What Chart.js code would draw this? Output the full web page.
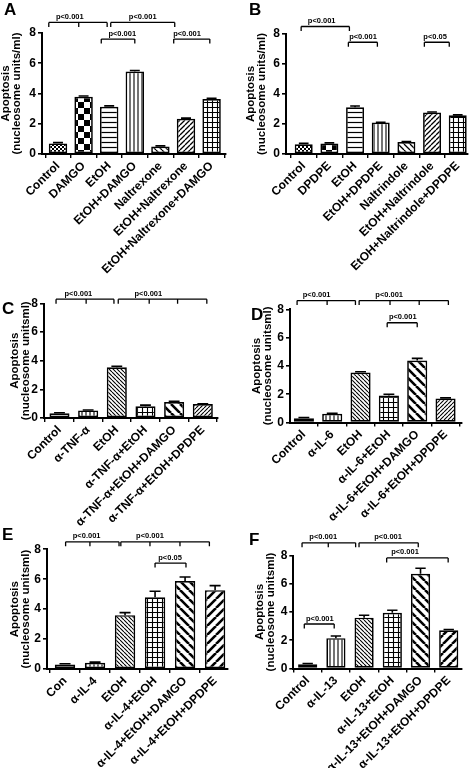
<!DOCTYPE html>
<html>
<head>
<meta charset="utf-8">
<script src="https://cdn.jsdelivr.net/npm/chart.js@4.4.1/dist/chart.umd.min.js"></script>
<style>
  html, body { margin: 0; padding: 0; background: #fff; }
  #wrap { position: relative; width: 472px; height: 768px; overflow: hidden; background: #fff; }
  canvas { position: absolute; }
  .lab { position: absolute; font: bold 17px 'Liberation Sans', Arial, sans-serif; line-height: 1; color: #000; }
</style>
</head>
<body>
<div id="wrap">
  <canvas id="cA"></canvas>
  <canvas id="cB"></canvas>
  <canvas id="cC"></canvas>
  <canvas id="cD"></canvas>
  <canvas id="cE"></canvas>
  <canvas id="cF"></canvas>
  <div class="lab" style="left:4px;top:1px">A</div>
  <div class="lab" style="left:249px;top:1px">B</div>
  <div class="lab" style="left:2px;top:300px">C</div>
  <div class="lab" style="left:251px;top:306px">D</div>
  <div class="lab" style="left:2px;top:526px">E</div>
  <div class="lab" style="left:249px;top:531px">F</div>
</div>
<script>
// ---------------- DATA ----------------
const yTickValues = [0, 2, 4, 6, 8];

const labelsA = ['Control', 'DAMGO', 'EtOH', 'EtOH+DAMGO', 'Naltrexone', 'EtOH+Naltrexone', 'EtOH+Naltrexone+DAMGO'];
const valuesA = [0.70, 3.78, 3.12, 5.45, 0.50, 2.33, 3.63];
const semA    = [0.05, 0.05, 0.06, 0.07, 0.04, 0.04, 0.05];
const bracketsA = [
  { at: [-0.36, 0.81, 1.92], y: 8.7, text: 'p<0.001', tx: 0.46 },
  { at: [2.06, 4.56], y: 8.7, text: 'p<0.001', tx: 3.31 },
  { at: [1.69, 3.0], y: 7.6, text: 'p<0.001', tx: 2.51 },
  { at: [4.52, 5.93], y: 7.6, text: 'p<0.001', tx: 5.04 }
];

const labelsB = ['Control', 'DPDPE', 'EtOH', 'EtOH+DPDPE', 'Naltrindole', 'EtOH+Naltrindole', 'EtOH+Naltrindole+DPDPE'];
const valuesB = [0.65, 0.70, 3.12, 2.10, 0.80, 2.77, 2.58];
const semB    = [0.06, 0.04, 0.08, 0.02, 0.03, 0.03, 0.03];
const bracketsB = [
  { at: [-0.10, 1.78], y: 8.5, text: 'p<0.001', tx: 0.70 },
  { at: [1.74, 2.87], y: 7.45, text: 'p<0.001', tx: 2.31 },
  { at: [4.70, 5.67], y: 7.45, text: 'p<0.05', tx: 5.12 }
];

const labelsC = ['Control', 'α-TNF-α', 'EtOH', 'α-TNF-α+EtOH', 'α-TNF-α+EtOH+DAMGO', 'α-TNF-α+EtOH+DPDPE'];
const valuesC = [0.33, 0.53, 3.55, 0.82, 1.12, 0.97];
const semC    = [0.04, 0.03, 0.07, 0.08, 0.04, 0.03];
const bracketsC = [
  { at: [-0.12, 0.93, 1.90], y: 8.3, text: 'p<0.001', tx: 0.66 },
  { at: [2.05, 3.13, 4.12, 5.14], y: 8.3, text: 'p<0.001', tx: 3.10 }
];

const labelsD = ['Control', 'α-IL-6', 'EtOH', 'α-IL-6+EtOH', 'α-IL-6+EtOH+DAMGO', 'α-IL-6+EtOH+DPDPE'];
const valuesD = [0.30, 0.62, 3.53, 1.90, 4.38, 1.70];
const semD    = [0.05, 0.03, 0.06, 0.10, 0.15, 0.04];
const bracketsD = [
  { at: [-0.24, 0.82, 1.82], y: 8.62, text: 'p<0.001', tx: 0.45 },
  { at: [1.95, 3.04, 4.07, 5.10], y: 8.62, text: 'p<0.001', tx: 3.01 },
  { at: [2.94, 4.00], y: 7.05, text: 'p<0.001', tx: 3.49 }
];

const labelsE = ['Con', 'α-IL-4', 'EtOH', 'α-IL-4+EtOH', 'α-IL-4+EtOH+DAMGO', 'α-IL-4+EtOH+DPDPE'];
const valuesE = [0.30, 0.42, 3.60, 4.80, 5.88, 5.27];
const semE    = [0.05, 0.04, 0.17, 0.40, 0.27, 0.30];
const bracketsE = [
  { at: [0.02, 0.83, 1.80], y: 8.5, text: 'p<0.001', tx: 0.72 },
  { at: [1.86, 2.83, 3.83, 4.81], y: 8.5, text: 'p<0.001', tx: 2.83 },
  { at: [3.00, 4.03], y: 7.08, text: 'p<0.05', tx: 3.50 }
];

const labelsF = ['Control', 'α-IL-13', 'EtOH', 'α-IL-13+EtOH', 'α-IL-13+EtOH+DAMGO', 'α-IL-13+EtOH+DPDPE'];
const valuesF = [0.30, 2.15, 3.60, 3.95, 6.70, 2.70];
const semF    = [0.05, 0.15, 0.17, 0.17, 0.40, 0.06];
const bracketsF = [
  { at: [-0.20, 0.73, 1.70], y: 8.9, text: 'p<0.001', tx: 0.55 },
  { at: [1.82, 3.92], y: 8.9, text: 'p<0.001', tx: 2.85 },
  { at: [2.80, 4.98], y: 7.83, text: 'p<0.001', tx: 3.45 },
  { at: [-0.12, 0.94], y: 3.15, text: 'p<0.001', tx: 0.43 }
];

const titleMl  = ['Apoptosis', '(nucleosome units/ml)'];
const titleUml = ['Apoptosis', '(nucleosome unitsml)'];

// ---------------- STYLE ----------------
const FAMILY = "'Liberation Sans', Arial, sans-serif";
const PATTERN_DEFS = {
  none:      { type: 'none' },
  fineCheck: { type: 'check', s: 4 },
  bigCheck:  { type: 'check', s: 12 },
  hLines:    { type: 'h', s: 5, lw: 1.2 },
  vLines:    { type: 'v', s: 4, lw: 1.1 },
  grid:      { type: 'grid', s: 5, lw: 1.1 },
  bsMed:     { type: 'bs', s: 6, lw: 1.3 },
  fsMed:     { type: 'fs', s: 5, lw: 1.3 },
  bsDense:   { type: 'bs', s: 4, lw: 1.1 },
  fsDense:   { type: 'fs', s: 4, lw: 1.1 },
  bsWide:    { type: 'bs', s: 9, lw: 2.6 },
  fsWide:    { type: 'fs', s: 9, lw: 2.6 }
};

function makePattern(name) {
  const d = PATTERN_DEFS[name];
  if (d.type === 'none') return '#ffffff';
  const s = d.s;
  const c = document.createElement('canvas');
  c.width = s; c.height = s;
  const g = c.getContext('2d');
  g.fillStyle = '#fff'; g.fillRect(0, 0, s, s);
  g.fillStyle = '#000'; g.strokeStyle = '#000'; g.lineWidth = d.lw || 1;
  g.beginPath();
  if (d.type === 'check') {
    g.fillRect(0, 0, s / 2, s / 2); g.fillRect(s / 2, s / 2, s / 2, s / 2);
  } else if (d.type === 'h') {
    g.moveTo(0, s / 2); g.lineTo(s, s / 2);
  } else if (d.type === 'v') {
    g.moveTo(s / 2, 0); g.lineTo(s / 2, s);
  } else if (d.type === 'grid') {
    g.moveTo(0, s / 2); g.lineTo(s, s / 2); g.moveTo(s / 2, 0); g.lineTo(s / 2, s);
  } else if (d.type === 'bs') {
    for (let o = -s; o <= s; o += s) { g.moveTo(o, 0); g.lineTo(o + s, s); }
  } else if (d.type === 'fs') {
    for (let o = -s; o <= s; o += s) { g.moveTo(o, s); g.lineTo(o + s, 0); }
  }
  g.stroke();
  return g.createPattern(c, 'repeat');
}

const errBarsPlugin = {
  id: 'errbars',
  afterDatasetsDraw(chart, args, opts) {
    const ctx = chart.ctx, ys = chart.scales.y;
    const meta = chart.getDatasetMeta(0);
    const vals = chart.data.datasets[0].data;
    ctx.save();
    ctx.strokeStyle = '#000'; ctx.lineWidth = 1.6;
    meta.data.forEach((el, i) => {
      const v = vals[i].y, e = opts.sem[i];
      const yTop = ys.getPixelForValue(v + e);
      const half = el.width * 0.27;
      ctx.beginPath();
      ctx.moveTo(el.x, el.y); ctx.lineTo(el.x, yTop);
      ctx.moveTo(el.x - half, yTop); ctx.lineTo(el.x + half, yTop);
      ctx.stroke();
    });
    ctx.restore();
  }
};

const bracketPlugin = {
  id: 'brackets',
  afterDraw(chart, args, opts) {
    const ctx = chart.ctx, xs = chart.scales.x, ys = chart.scales.y;
    ctx.save();
    ctx.strokeStyle = '#000'; ctx.fillStyle = '#000'; ctx.lineWidth = 1.3;
    ctx.font = 'bold 7.5px ' + FAMILY;
    ctx.textAlign = 'center'; ctx.textBaseline = 'alphabetic';
    opts.items.forEach(b => {
      const px = b.at.map(v => xs.getPixelForValue(v));
      const py = ys.getPixelForValue(b.y);
      ctx.beginPath();
      ctx.moveTo(px[0], py); ctx.lineTo(px[px.length - 1], py);
      px.forEach(x => { ctx.moveTo(x, py); ctx.lineTo(x, py + 4.5); });
      ctx.stroke();
      ctx.fillText(b.text, xs.getPixelForValue(b.tx), py - 3.5);
    });
    ctx.restore();
  }
};

// layout per panel (positions in page pixels)
const PANELS = [
  { id: 'cA', labels: labelsA, values: valuesA, sem: semA, brackets: bracketsA, title: titleMl,
    patterns: ['fineCheck', 'bigCheck', 'hLines', 'vLines', 'bsMed', 'fsMed', 'grid'],
    left: 0, top: 0, w: 236, h: 300, axisX: 42, right: 226, y8: 33, y0: 154, xmin: -0.625, xmax: 6.5625, barPct: 0.72, titlePad: 0.5 },
  { id: 'cB', labels: labelsB, values: valuesB, sem: semB, brackets: bracketsB, title: titleMl,
    patterns: ['fineCheck', 'bigCheck', 'hLines', 'vLines', 'bsMed', 'fsMed', 'grid'],
    left: 236, top: 0, w: 236, h: 300, axisX: 286, right: 468, y8: 34, y0: 154, xmin: -0.69, xmax: 6.4, barPct: 0.70, titlePad: 9.5 },
  { id: 'cC', labels: labelsC, values: valuesC, sem: semC, brackets: bracketsC, title: titleUml,
    patterns: ['none', 'vLines', 'bsDense', 'grid', 'bsWide', 'fsDense'],
    left: 0, top: 260, w: 236, h: 280, axisX: 44, right: 218, y8: 303.5, y0: 418, xmin: -0.54, xmax: 5.53, barPct: 0.70, titlePad: 9.5 },
  { id: 'cD', labels: labelsD, values: valuesD, sem: semD, brackets: bracketsD, title: titleUml,
    patterns: ['none', 'vLines', 'bsDense', 'grid', 'bsWide', 'fsDense'],
    left: 236, top: 260, w: 236, h: 280, axisX: 290, right: 461.7, y8: 309.3, y0: 422.5, xmin: -0.49, xmax: 5.57, barPct: 0.71, titlePad: 15.5 },
  { id: 'cE', labels: labelsE, values: valuesE, sem: semE, brackets: bracketsE, title: titleUml,
    patterns: ['none', 'vLines', 'bsDense', 'grid', 'bsWide', 'fsWide'],
    left: 0, top: 500, w: 236, h: 268, axisX: 47, right: 228, y8: 549.3, y0: 669, xmin: -0.6, xmax: 5.43, barPct: 0.68, titlePad: 9.5 },
  { id: 'cF', labels: labelsF, values: valuesF, sem: semF, brackets: bracketsF, title: titleUml,
    patterns: ['none', 'vLines', 'bsDense', 'grid', 'bsWide', 'fsWide'],
    left: 236, top: 500, w: 236, h: 268, axisX: 293.3, right: 461.7, y8: 555.5, y0: 668.5, xmin: -0.51, xmax: 5.46, barPct: 0.68, titlePad: 18.5 }
];

Chart.defaults.color = '#000';
Chart.defaults.font.family = FAMILY;

PANELS.forEach(p => {
  const cv = document.getElementById(p.id);
  cv.width = p.w; cv.height = p.h;
  cv.style.left = p.left + 'px'; cv.style.top = p.top + 'px';
  cv.style.width = p.w + 'px'; cv.style.height = p.h + 'px';
  const yW = p.axisX - p.left;
  const xH = p.top + p.h - p.y0;
  new Chart(cv, {
    type: 'bar',
    data: {
      datasets: [{
        data: p.values.map((v, i) => ({ x: i, y: v })),
        backgroundColor: p.patterns.map(makePattern),
        borderColor: '#000',
        borderWidth: 1.7,
        borderSkipped: false,
        categoryPercentage: 1,
        barPercentage: p.barPct
      }]
    },
    options: {
      responsive: false,
      animation: false,
      devicePixelRatio: 1,
      events: [],
      layout: { padding: { left: 0, top: p.y8 - p.top, right: p.left + p.w - p.right, bottom: 0 } },
      plugins: {
        legend: { display: false },
        tooltip: { enabled: false },
        errbars: { sem: p.sem },
        brackets: { items: p.brackets }
      },
      scales: {
        x: {
          type: 'linear', min: p.xmin, max: p.xmax, offset: false,
          afterBuildTicks: s => { s.ticks = p.labels.map((_, i) => ({ value: i })); },
          afterFit: s => { s.height = xH; s.paddingLeft = 0; s.paddingRight = 0; },
          grid: { display: true, drawOnChartArea: false, drawTicks: true, tickLength: 4, color: '#000', lineWidth: 1.4 },
          border: { display: true, color: '#000', width: 2 },
          ticks: { autoSkip: false, minRotation: 45, maxRotation: 45, padding: 1,
                   callback: v => p.labels[v], font: { size: 12, weight: 'bold' }, color: '#000' }
        },
        y: {
          min: 0, max: 8,
          afterBuildTicks: s => { s.ticks = yTickValues.map(v => ({ value: v })); },
          afterFit: s => { s.width = yW; s.paddingTop = 0; s.paddingBottom = 0; },
          grid: { display: true, drawOnChartArea: false, drawTicks: true, tickLength: 4, color: '#000', lineWidth: 1.6 },
          border: { display: true, color: '#000', width: 2 },
          ticks: { padding: 2, font: { size: 12, weight: 'bold' }, color: '#000' },
          title: { display: true, text: p.title, font: { size: 11.5, weight: 'bold', lineHeight: 0.95 },
                   padding: { top: p.titlePad, bottom: 0 }, color: '#000' }
        }
      }
    },
    plugins: [errBarsPlugin, bracketPlugin]
  });
});
</script>
</body>
</html>
